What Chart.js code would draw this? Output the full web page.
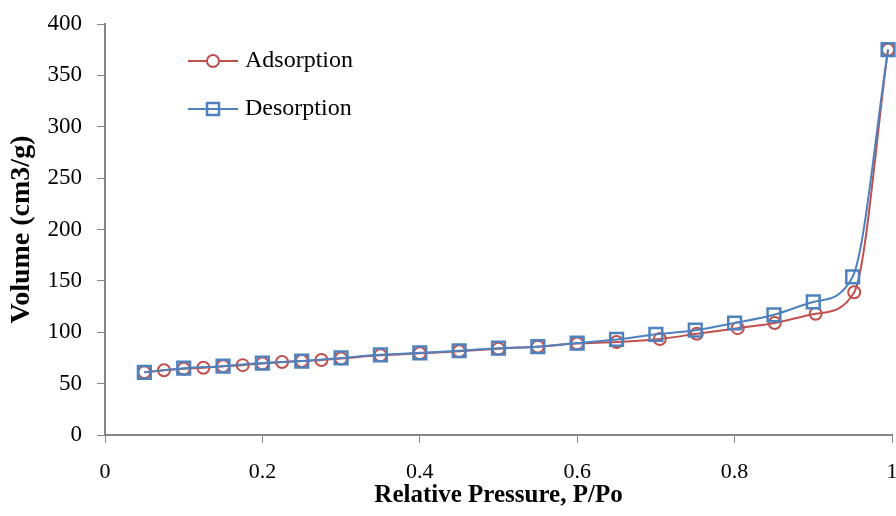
<!DOCTYPE html>
<html>
<head>
<meta charset="utf-8">
<script src="https://cdn.jsdelivr.net/npm/chart.js@4/dist/chart.umd.min.js"></script>
<style>
  html, body { margin: 0; padding: 0; background: #fff; }
  #wrap { width: 896px; height: 516px; }
</style>
</head>
<body>
<div id="wrap"><canvas id="isoChart" width="896" height="516"></canvas></div>
<script>
// isotherm data
const adsPressure = [0.05, 0.075, 0.1, 0.125, 0.15, 0.175, 0.2, 0.225, 0.25, 0.275, 0.3, 0.35, 0.4, 0.45, 0.5, 0.55, 0.6, 0.65, 0.705, 0.752, 0.804, 0.851, 0.903, 0.952, 0.995];
const adsVolume   = [61, 63, 64.5, 65.5, 67, 68, 69.5, 71, 72, 73, 74.5, 77.5, 79.5, 81.5, 84, 86, 89, 90.5, 93.5, 98.5, 104, 109, 118, 139, 375];
const desPressure = [0.05, 0.1, 0.15, 0.2, 0.25, 0.3, 0.35, 0.4, 0.45, 0.5, 0.55, 0.6, 0.65, 0.7, 0.75, 0.8, 0.85, 0.9, 0.95, 0.995];
const desVolume   = [61, 65, 67, 70, 72, 75, 78, 80, 82, 84.5, 86, 89.5, 93, 98, 102, 109, 117, 129.5, 154, 375];

const RED = "#C0504D";
const BLUE = "#4F81BD";
const AXIS = "#868686";
const SERIF = "'Liberation Serif', 'Times New Roman', serif";

const toPoints = (xs, ys) => xs.map((x, i) => ({ x: x, y: ys[i] }));

// legend drawn inside the plot: short line with the marker on it
const lineLegend = {
  id: "lineLegend",
  afterDraw(chart) {
    const ctx = chart.ctx;
    const items = [
      { ds: chart.data.datasets[0], y: 61 },
      { ds: chart.data.datasets[1], y: 109 }
    ];
    ctx.save();
    items.forEach(it => {
      ctx.strokeStyle = it.ds.borderColor;
      ctx.lineWidth = 2;
      ctx.beginPath();
      ctx.moveTo(188, it.y);
      ctx.lineTo(238, it.y);
      ctx.stroke();
      ctx.fillStyle = "#fff";
      if (it.ds.pointStyle === "rect") {
        ctx.fillRect(207, it.y - 6, 12, 12);
        ctx.beginPath();
        ctx.moveTo(207, it.y); ctx.lineTo(219, it.y); ctx.stroke();
        ctx.lineWidth = 2.5;
        ctx.strokeRect(207, it.y - 6, 12, 12);
      } else {
        ctx.beginPath();
        ctx.arc(213, it.y, 6, 0, Math.PI * 2);
        ctx.fill();
        ctx.stroke();
      }
      ctx.fillStyle = "#000";
      ctx.font = "24px " + SERIF;
      ctx.textBaseline = "middle";
      ctx.textAlign = "left";
      ctx.fillText(it.ds.label, 245, it.y);
    });
    ctx.restore();
  }
};

const ctx = document.getElementById("isoChart").getContext("2d");

new Chart(ctx, {
  type: "line",
  data: {
    datasets: [
      {
        label: "Adsorption",
        data: toPoints(adsPressure, adsVolume),
        borderColor: RED,
        backgroundColor: "rgba(0,0,0,0)",
        borderWidth: 2,
        pointStyle: "circle",
        pointRadius: 6,
        pointBorderWidth: 2,
        pointBorderColor: RED,
        pointBackgroundColor: "rgba(0,0,0,0)",
        cubicInterpolationMode: "monotone",
        clip: false,
        order: 1
      },
      {
        label: "Desorption",
        data: toPoints(desPressure, desVolume),
        borderColor: BLUE,
        backgroundColor: "rgba(0,0,0,0)",
        borderWidth: 2,
        pointStyle: "rect",
        pointRadius: 9,
        pointBorderWidth: 2.5,
        pointBorderColor: BLUE,
        pointBackgroundColor: "rgba(0,0,0,0)",
        cubicInterpolationMode: "monotone",
        clip: false,
        order: 0
      }
    ]
  },
  options: {
    responsive: false,
    animation: false,
    layout: { autoPadding: false, padding: { top: 24, right: 4, bottom: 0, left: 0 } },
    plugins: {
      legend: { display: false },
      tooltip: { enabled: false }
    },
    scales: {
      x: {
        type: "linear",
        min: 0,
        max: 1,
        afterFit: s => { s.height = 81; s.paddingRight = 0; },
        border: { color: AXIS, width: 2 },
        grid: { drawOnChartArea: false, drawTicks: true, tickLength: 8, tickColor: AXIS, tickWidth: 1 },
        ticks: {
          stepSize: 0.2,
          color: "#000",
          padding: 16,
          font: { family: SERIF, size: 22 },
          callback: v => String(Math.round(v * 10) / 10)
        },
        title: {
          display: true,
          text: "Relative Pressure, P/Po",
          color: "#000",
          padding: { top: 0, bottom: 5 },
          font: { family: SERIF, size: 25, weight: "bold" }
        }
      },
      y: {
        min: 0,
        max: 400,
        afterFit: s => { s.width = 105; s.paddingTop = 0; s.paddingBottom = 0; },
        border: { color: AXIS, width: 2 },
        grid: { drawOnChartArea: false, drawTicks: true, tickLength: 8, tickColor: AXIS, tickWidth: 1 },
        ticks: { stepSize: 50, color: "#000", padding: 15, font: { family: SERIF, size: 23 } },
        title: {
          display: true,
          text: "Volume (cm3/g)",
          color: "#000",
          padding: { top: 5, bottom: 0 },
          font: { family: SERIF, size: 28, weight: "bold" }
        }
      }
    }
  },
  plugins: [lineLegend]
});
</script>
</body>
</html>
